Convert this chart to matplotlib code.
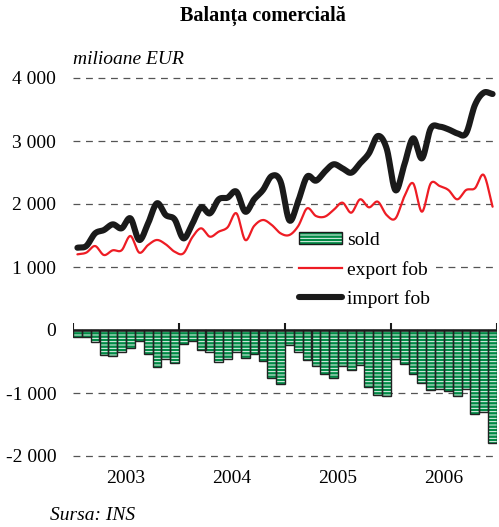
import numpy as np
import matplotlib
matplotlib.use("Agg")
import matplotlib.pyplot as plt
from matplotlib.patches import Patch
from matplotlib.lines import Line2D
from matplotlib.legend_handler import HandlerTuple

plt.rcParams['font.family'] = ['Liberation Serif', 'DejaVu Serif']
plt.rcParams['hatch.linewidth'] = 0.65

years = ["2003", "2004", "2005", "2006"]

export_fob = [1201, 1228, 1333, 1190, 1265, 1265, 1492, 1228, 1349, 1429, 1360, 1243,
              1217, 1471, 1614, 1481, 1561, 1630, 1852, 1429, 1651, 1746, 1667, 1534,
              1508, 1651, 1931, 1810, 1799, 1905, 2021, 1862, 2074, 1947, 2037, 1825,
              1770, 2116, 2328, 1878, 2328, 2286, 2222, 2074, 2222, 2249, 2460, 1957]

import_fob = [1306, 1333, 1534, 1587, 1677, 1614, 1772, 1429, 1693, 2011, 1825, 1757,
              1455, 1683, 1947, 1852, 2074, 2101, 2196, 1878, 2074, 2222, 2444, 2355,
              1740, 2050, 2434, 2370, 2513, 2630, 2566, 2497, 2645, 2804, 3079, 2884,
              2220, 2619, 3042, 2725, 3201, 3228, 3185, 3122, 3122, 3571, 3767, 3746]

sold = [-106, -116, -196, -392, -407, -349, -291, -180, -376, -587, -460, -529,
        -228, -180, -323, -354, -513, -466, -354, -450, -386, -497, -762, -862,
        -238, -354, -481, -566, -698, -757, -566, -635, -556, -905, -1037, -1053,
        -455, -540, -704, -847, -958, -942, -968, -1048, -931, -1333, -1307, -1799]

yticks = [4000, 3000, 2000, 1000, 0, -1000, -2000]
ytick_labels = ["4 000", "3 000", "2 000", "1 000", "0", "-1 000", "-2 000"]


def catmull_rom(x, y, n=20):
    x = np.asarray(x, float)
    y = np.asarray(y, float)
    px = np.concatenate([[2 * x[0] - x[1]], x, [2 * x[-1] - x[-2]]])
    py = np.concatenate([[2 * y[0] - y[1]], y, [2 * y[-1] - y[-2]]])
    xs, ys = [], []
    t = np.linspace(0, 1, n, endpoint=False)
    for i in range(1, len(px) - 2):
        p0, p1, p2, p3 = py[i - 1], py[i], py[i + 1], py[i + 2]
        q0, q1, q2, q3 = px[i - 1], px[i], px[i + 1], px[i + 2]
        ys.append(0.5 * ((2 * p1) + (-p0 + p2) * t + (2 * p0 - 5 * p1 + 4 * p2 - p3) * t ** 2
                         + (-p0 + 3 * p1 - 3 * p2 + p3) * t ** 3))
        xs.append(0.5 * ((2 * q1) + (-q0 + q2) * t + (2 * q0 - 5 * q1 + 4 * q2 - q3) * t ** 2
                         + (-q0 + 3 * q1 - 3 * q2 + q3) * t ** 3))
    xs.append([x[-1]])
    ys.append([y[-1]])
    return np.concatenate(xs), np.concatenate(ys)


W, H = 499, 527
fig = plt.figure(figsize=(W / 100, H / 100), dpi=100)
ax = fig.add_axes([73 / W, 1 - 456 / H, 424 / W, 378 / H])

n = len(sold)
xc = np.arange(n) + 0.5
green = '#008a45'
hatch = '-----'

# gridlines
for v in yticks:
    if v != 0:
        ax.axhline(v, color='#555555', lw=0.9, dashes=(5.5, 4.5), zorder=1, clip_on=False)

ax.bar(xc, sold, width=1.0, color=green, edgecolor='white', hatch=hatch, lw=0, zorder=2)
ax.bar(xc, sold, width=1.0, fill=False, edgecolor='#222222', lw=1.0, zorder=2.5)

sx, sy = catmull_rom(xc, export_fob)
ax.plot(sx, sy, color='#ee1c24', lw=1.6, zorder=7, solid_capstyle='round')
ix, iy = catmull_rom(xc, import_fob)
ax.plot(ix, iy, color='#1a1a1a', lw=4.4, zorder=8, solid_capstyle='round')

# zero axis line and year ticks
ax.axhline(0, color='#1a1a1a', lw=1.8, zorder=9)
ax.vlines(np.arange(0, n + 1, 12), 0, 115, color='#1a1a1a', lw=1.5, zorder=9)

ax.set_xlim(0, n)
ax.set_ylim(-2000, 4000)
for s in ax.spines.values():
    s.set_visible(False)
ax.set_xticks([])
ax.set_yticks(yticks)
ax.set_yticklabels(ytick_labels, fontsize=14)
ax.tick_params(axis='y', length=0, pad=12)

for k, yr in enumerate(years):
    ax.text(12 * k + 6, -2350, yr, ha='center', va='center', fontsize=14, clip_on=False)

handles = [(Patch(facecolor=green, edgecolor='white', hatch=hatch, lw=0),
            Patch(fill=False, edgecolor='#1a1a1a', lw=1.0)),
           Line2D([], [], color='#ee1c24', lw=1.6),
           Line2D([], [], color='#1a1a1a', lw=4.4, solid_capstyle='round')]
leg = ax.legend(handles, ['sold', 'export fob', 'import fob'],
                handler_map={tuple: HandlerTuple(ndivide=1, pad=0)},
                loc='upper left', bbox_to_anchor=((293 - 73) / 424, (456 - 226) / 378),
                fontsize=14, frameon=True, fancybox=False, edgecolor='none',
                facecolor='white', framealpha=1, handlelength=2.2, handleheight=0.62,
                handletextpad=0.3, labelspacing=0.6, borderpad=0.3, borderaxespad=0)
leg.set_zorder(5)

fig.text(263 / W, 1 - 16 / H, 'Balanța comercială', ha='center', va='center',
         fontsize=14.5, fontweight='bold')
fig.text(73 / W, 1 - 60 / H, 'milioane EUR', ha='left', va='center', fontsize=14,
         style='italic')
fig.text(50 / W, 1 - 515 / H, 'Sursa: INS', ha='left', va='center', fontsize=14,
         style='italic')

fig.savefig('out.png', dpi=100)
